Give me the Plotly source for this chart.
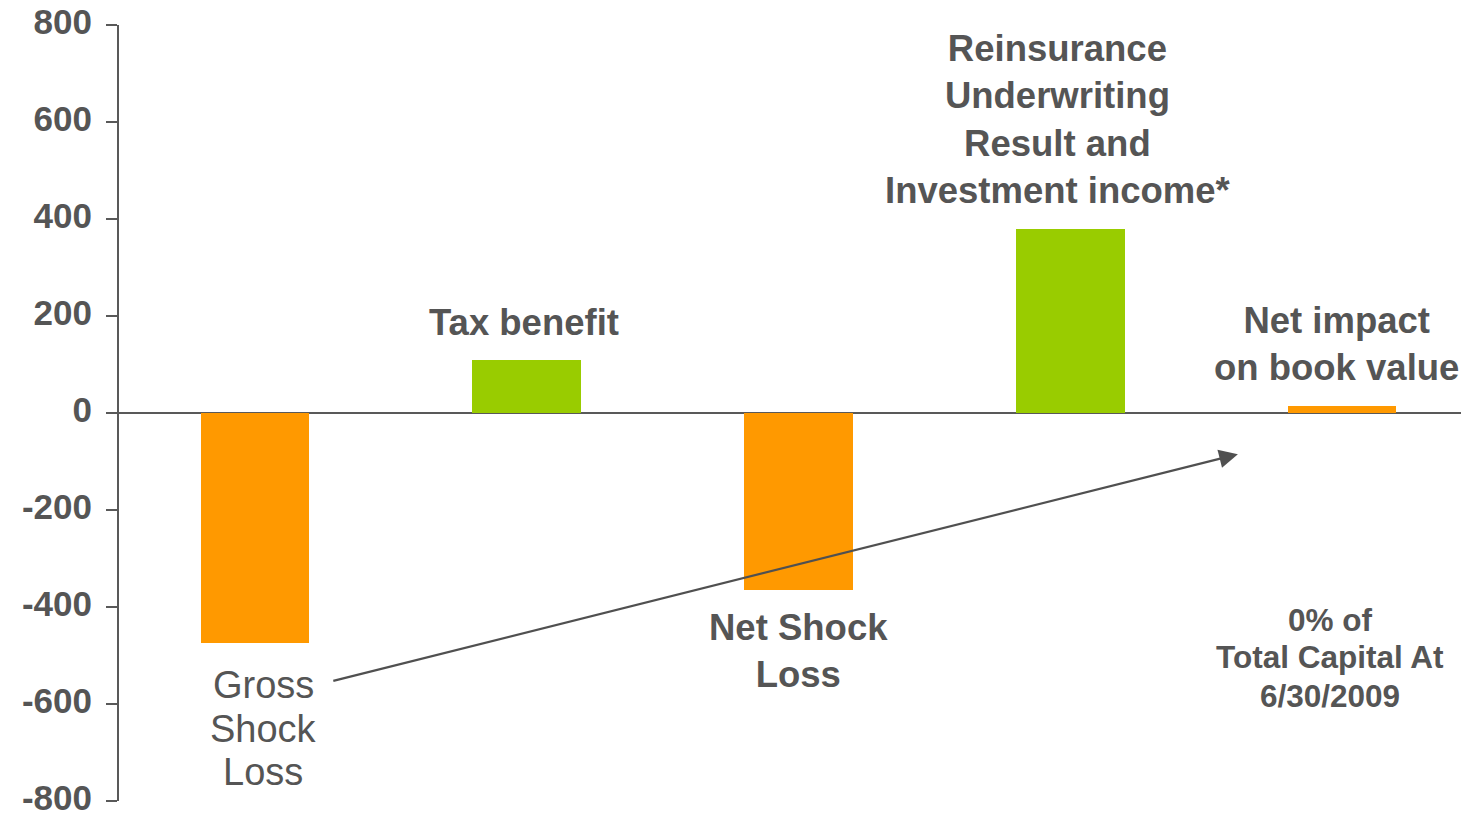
import plotly.graph_objects as go

# Shock-loss walk: components and their impact
categories = ["Gross Shock Loss", "Tax benefit", "Net Shock Loss",
              "Reinsurance Underwriting Result and Investment income*",
              "Net impact on book value"]
values = [-475, 110, -365, 380, 15]
bar_colors = ["#FF9900", "#99CC00", "#FF9900", "#99CC00", "#FF9900"]
tick_values = [-800, -600, -400, -200, 0, 200, 400, 600, 800]
tick_labels = ["-800", "-600", "-400", "-200", "0", "200", "400", "600", "800"]

TEXT = "#555555"
FONT = "Arial"

xs = list(range(len(categories)))

fig = go.Figure(go.Bar(
    x=xs, y=values, width=0.4,
    marker=dict(color=bar_colors, line=dict(width=0)),
    hovertext=categories,
))

def label(x, y, text, size, bold=True):
    fig.add_annotation(
        x=x, y=y, xref="x", yref="y", text=text, showarrow=False,
        xanchor="center", yanchor="middle", align="center",
        font=dict(family=FONT, size=size, color=TEXT,
                  weight="bold" if bold else "normal"),
    )

# Tighter line spacing: one annotation per line
for txt, yy in zip(["Gross", "Shock", "Loss"], [-560, -651, -741]):
    label(0.03, yy, txt, 38, bold=False)
for txt, yy in zip(["0% of", "Total Capital At", "6/30/2009"], [-426, -504, -583]):
    label(3.956, yy, txt, 31.5)

label(0.99, 187, "Tax benefit", 36.5)
label(2.0, -490, "Net Shock<br>Loss", 36.5)
label(2.955, 605, "Reinsurance<br>Underwriting<br>Result and<br>Investment income*", 36.5)
label(3.98, 142, "Net impact<br>on book value", 36.5)

# Arrow from the gross loss to the net impact
fig.add_annotation(
    x=3.617, y=-85, ax=0.283, ay=-553,
    xref="x", yref="y", axref="x", ayref="y",
    text="", showarrow=True, arrowhead=2, arrowsize=1.7,
    arrowwidth=2.2, arrowcolor="#505050", standoff=0,
)

fig.update_layout(
    width=1461, height=817,
    margin=dict(l=119, r=0, t=25, b=16),
    plot_bgcolor="white", paper_bgcolor="white",
    showlegend=False, bargap=0,
    xaxis=dict(range=[-0.5, 4.438], showticklabels=False, showgrid=False,
               zeroline=False, showline=False, ticks="", automargin=False),
    yaxis=dict(range=[-800, 800], tickvals=tick_values, ticktext=tick_labels,
               ticklabeloverflow="allow", ticklabelstandoff=7,
               ticklabelshift=-3, automargin=False,
               showgrid=False, zeroline=True, zerolinecolor="#595959",
               zerolinewidth=2, showline=True, linecolor="#595959",
               linewidth=2, ticks="outside", ticklen=11, tickwidth=2,
               tickcolor="#595959",
               tickfont=dict(family=FONT, size=35, color=TEXT, weight="bold")),
)

fig.write_html("out.html")
